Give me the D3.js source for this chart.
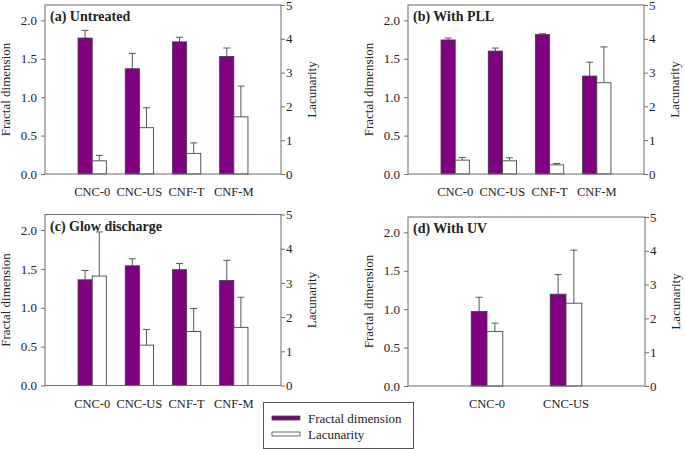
<!DOCTYPE html>
<html>
<head>
<meta charset="utf-8">
<script src="https://cdn.jsdelivr.net/npm/d3@7"></script>
<style>
  html, body { margin: 0; padding: 0; background: #fff; }
  svg { display: block; }
  text { font-family: "Liberation Serif", "Times New Roman", serif; fill: #222; }
</style>
</head>
<body>
<svg id="chart" width="685" height="449"></svg>
<script>
// ---------- data ----------
const panelTitles = ["(a) Untreated", "(b) With PLL", "(c) Glow discharge", "(d) With UV"];
const categoriesFour = ["CNC-0", "CNC-US", "CNF-T", "CNF-M"];
const categoriesTwo = ["CNC-0", "CNC-US"];

const fractalA = [1.77, 1.37, 1.72, 1.53];
const fractalErrA = [0.10, 0.20, 0.06, 0.11];
const lacunarityA = [0.39, 1.37, 0.61, 1.69];
const lacunarityErrA = [0.16, 0.59, 0.31, 0.91];

const fractalB = [1.745, 1.60, 1.815, 1.275];
const fractalErrB = [0.025, 0.04, 0.01, 0.18];
const lacunarityB = [0.41, 0.39, 0.27, 2.70];
const lacunarityErrB = [0.08, 0.09, 0.04, 1.06];

const fractalC = [1.36, 1.54, 1.49, 1.35];
const fractalErrC = [0.12, 0.09, 0.08, 0.26];
const lacunarityC = [3.20, 1.18, 1.58, 1.70];
const lacunarityErrC = [1.29, 0.46, 0.67, 0.88];

const fractalD = [0.97, 1.195];
const fractalErrD = [0.185, 0.255];
const lacunarityD = [1.61, 2.45];
const lacunarityErrD = [0.25, 1.57];

const leftTicks = [0, 0.5, 1.0, 1.5, 2.0];
const rightTicks = [0, 1, 2, 3, 4, 5];
const leftTitle = "Fractal dimension";
const rightTitle = "Lacunarity";
const legendLabels = ["Fractal dimension", "Lacunarity"];

// ---------- style / layout ----------
const purple = "#800080";
const axisColor = "#6b6b6b";
const errColor = "#555";

const panels = [
  { title: panelTitles[0], cats: categoriesFour, f: fractalA, fe: fractalErrA, l: lacunarityA, le: lacunarityErrA,
    box: { left: 45, right: 281, top: 5, bottom: 174 }, barFrac: 0.30 },
  { title: panelTitles[1], cats: categoriesFour, f: fractalB, fe: fractalErrB, l: lacunarityB, le: lacunarityErrB,
    box: { left: 408, right: 644, top: 5, bottom: 174 }, barFrac: 0.30 },
  { title: panelTitles[2], cats: categoriesFour, f: fractalC, fe: fractalErrC, l: lacunarityC, le: lacunarityErrC,
    box: { left: 45, right: 281, top: 214.5, bottom: 385.5 }, barFrac: 0.30 },
  { title: panelTitles[3], cats: categoriesTwo, f: fractalD, fe: fractalErrD, l: lacunarityD, le: lacunarityErrD,
    box: { left: 408, right: 645, top: 217, bottom: 386 }, barFrac: 0.20 }
];

const svg = d3.select("#chart");

panels.forEach(p => {
  const b = p.box;
  const g = svg.append("g");

  const domain = ["__start", ...p.cats, "__end"];
  const x = d3.scalePoint().domain(domain).range([b.left, b.right]);
  const bw = x.step() * p.barFrac;
  const yL = d3.scaleLinear().domain([0, 2.2]).range([b.bottom, b.top]);
  const yR = d3.scaleLinear().domain([0, 5]).range([b.bottom, b.top]);

  const rows = p.cats.map((c, i) => ({ c, f: p.f[i], fe: p.fe[i], l: p.l[i], le: p.le[i] }));

  // error bars (upper only)
  const capHalf = 3.5;
  rows.forEach(r => {
    const cxF = x(r.c) - bw / 2;
    const cxL = x(r.c) + bw / 2;
    [[cxF, yL(r.f), yL(r.f + r.fe)], [cxL, yR(r.l), yR(r.l + r.le)]].forEach(([cx, y0, y1]) => {
      g.append("line").attr("x1", cx).attr("x2", cx).attr("y1", y0).attr("y2", y1)
        .attr("stroke", errColor).attr("stroke-width", 1);
      g.append("line").attr("x1", cx - capHalf).attr("x2", cx + capHalf).attr("y1", y1).attr("y2", y1)
        .attr("stroke", errColor).attr("stroke-width", 1);
    });
  });

  g.selectAll("rect.frac").data(rows).enter().append("rect")
    .attr("class", "frac")
    .attr("x", d => x(d.c) - bw)
    .attr("y", d => yL(d.f))
    .attr("width", bw)
    .attr("height", d => yL(0) - yL(d.f))
    .attr("fill", purple)
    .attr("stroke", "#3a3a3a")
    .attr("stroke-width", 0.8);

  g.selectAll("rect.lac").data(rows).enter().append("rect")
    .attr("class", "lac")
    .attr("x", d => x(d.c))
    .attr("y", d => yR(d.l))
    .attr("width", bw)
    .attr("height", d => yR(0) - yR(d.l))
    .attr("fill", "#fff")
    .attr("stroke", "#444")
    .attr("stroke-width", 0.9);

  // frame
  g.append("rect")
    .attr("x", b.left).attr("y", b.top)
    .attr("width", b.right - b.left).attr("height", b.bottom - b.top)
    .attr("fill", "none").attr("stroke", axisColor).attr("stroke-width", 1);

  // left axis
  const la = g.append("g").attr("transform", `translate(${b.left},0)`)
    .call(d3.axisLeft(yL).tickValues(leftTicks).tickFormat(d3.format(".1f")).tickSize(4).tickPadding(4));
  la.select(".domain").remove();
  la.selectAll("line").attr("stroke", axisColor);
  la.selectAll("text").style("font-family", "Liberation Serif").style("font-size", "13px").attr("fill", "#222");

  // right axis
  const ra = g.append("g").attr("transform", `translate(${b.right},0)`)
    .call(d3.axisRight(yR).tickValues(rightTicks).tickFormat(d3.format("d")).tickSize(4).tickPadding(1));
  ra.select(".domain").remove();
  ra.selectAll("line").attr("stroke", axisColor);
  ra.selectAll("text").style("font-family", "Liberation Serif").style("font-size", "13px").attr("fill", "#222");

  // x category labels
  g.selectAll("text.cat").data(p.cats).enter().append("text")
    .attr("class", "cat")
    .attr("x", d => x(d))
    .attr("y", b.bottom + 22)
    .attr("text-anchor", "middle")
    .style("font-size", "12.5px")
    .text(d => d);

  // panel title
  g.append("text")
    .attr("x", b.left + 5)
    .attr("y", b.top + 16)
    .style("font-size", "14px")
    .style("font-weight", "bold")
    .text(p.title);

  // axis titles
  const midY = (b.top + b.bottom) / 2;
  g.append("text")
    .attr("transform", `translate(${b.left - 35},${midY}) rotate(-90)`)
    .attr("text-anchor", "middle")
    .style("font-size", "13px")
    .text(leftTitle);
  g.append("text")
    .attr("transform", `translate(${b.right + 35},${midY}) rotate(-90)`)
    .attr("text-anchor", "middle")
    .style("font-size", "13px")
    .text(rightTitle);
});

// legend
const lg = svg.append("g");
lg.append("rect").attr("x", 263.5).attr("y", 402.5).attr("width", 150).attr("height", 46)
  .attr("fill", "#fff").attr("stroke", "#555").attr("stroke-width", 1);
const legendFills = [purple, "#fff"];
legendLabels.forEach((lab, i) => {
  const yy = 418 + i * 16;
  lg.append("rect").attr("x", 272).attr("y", yy - 2).attr("width", 28).attr("height", 4)
    .attr("fill", legendFills[i]).attr("stroke", "#444").attr("stroke-width", 0.8);
  lg.append("text").attr("x", 308).attr("y", yy + 4.5)
    .style("font-size", "13px").text(lab);
});
</script>
</body>
</html>
